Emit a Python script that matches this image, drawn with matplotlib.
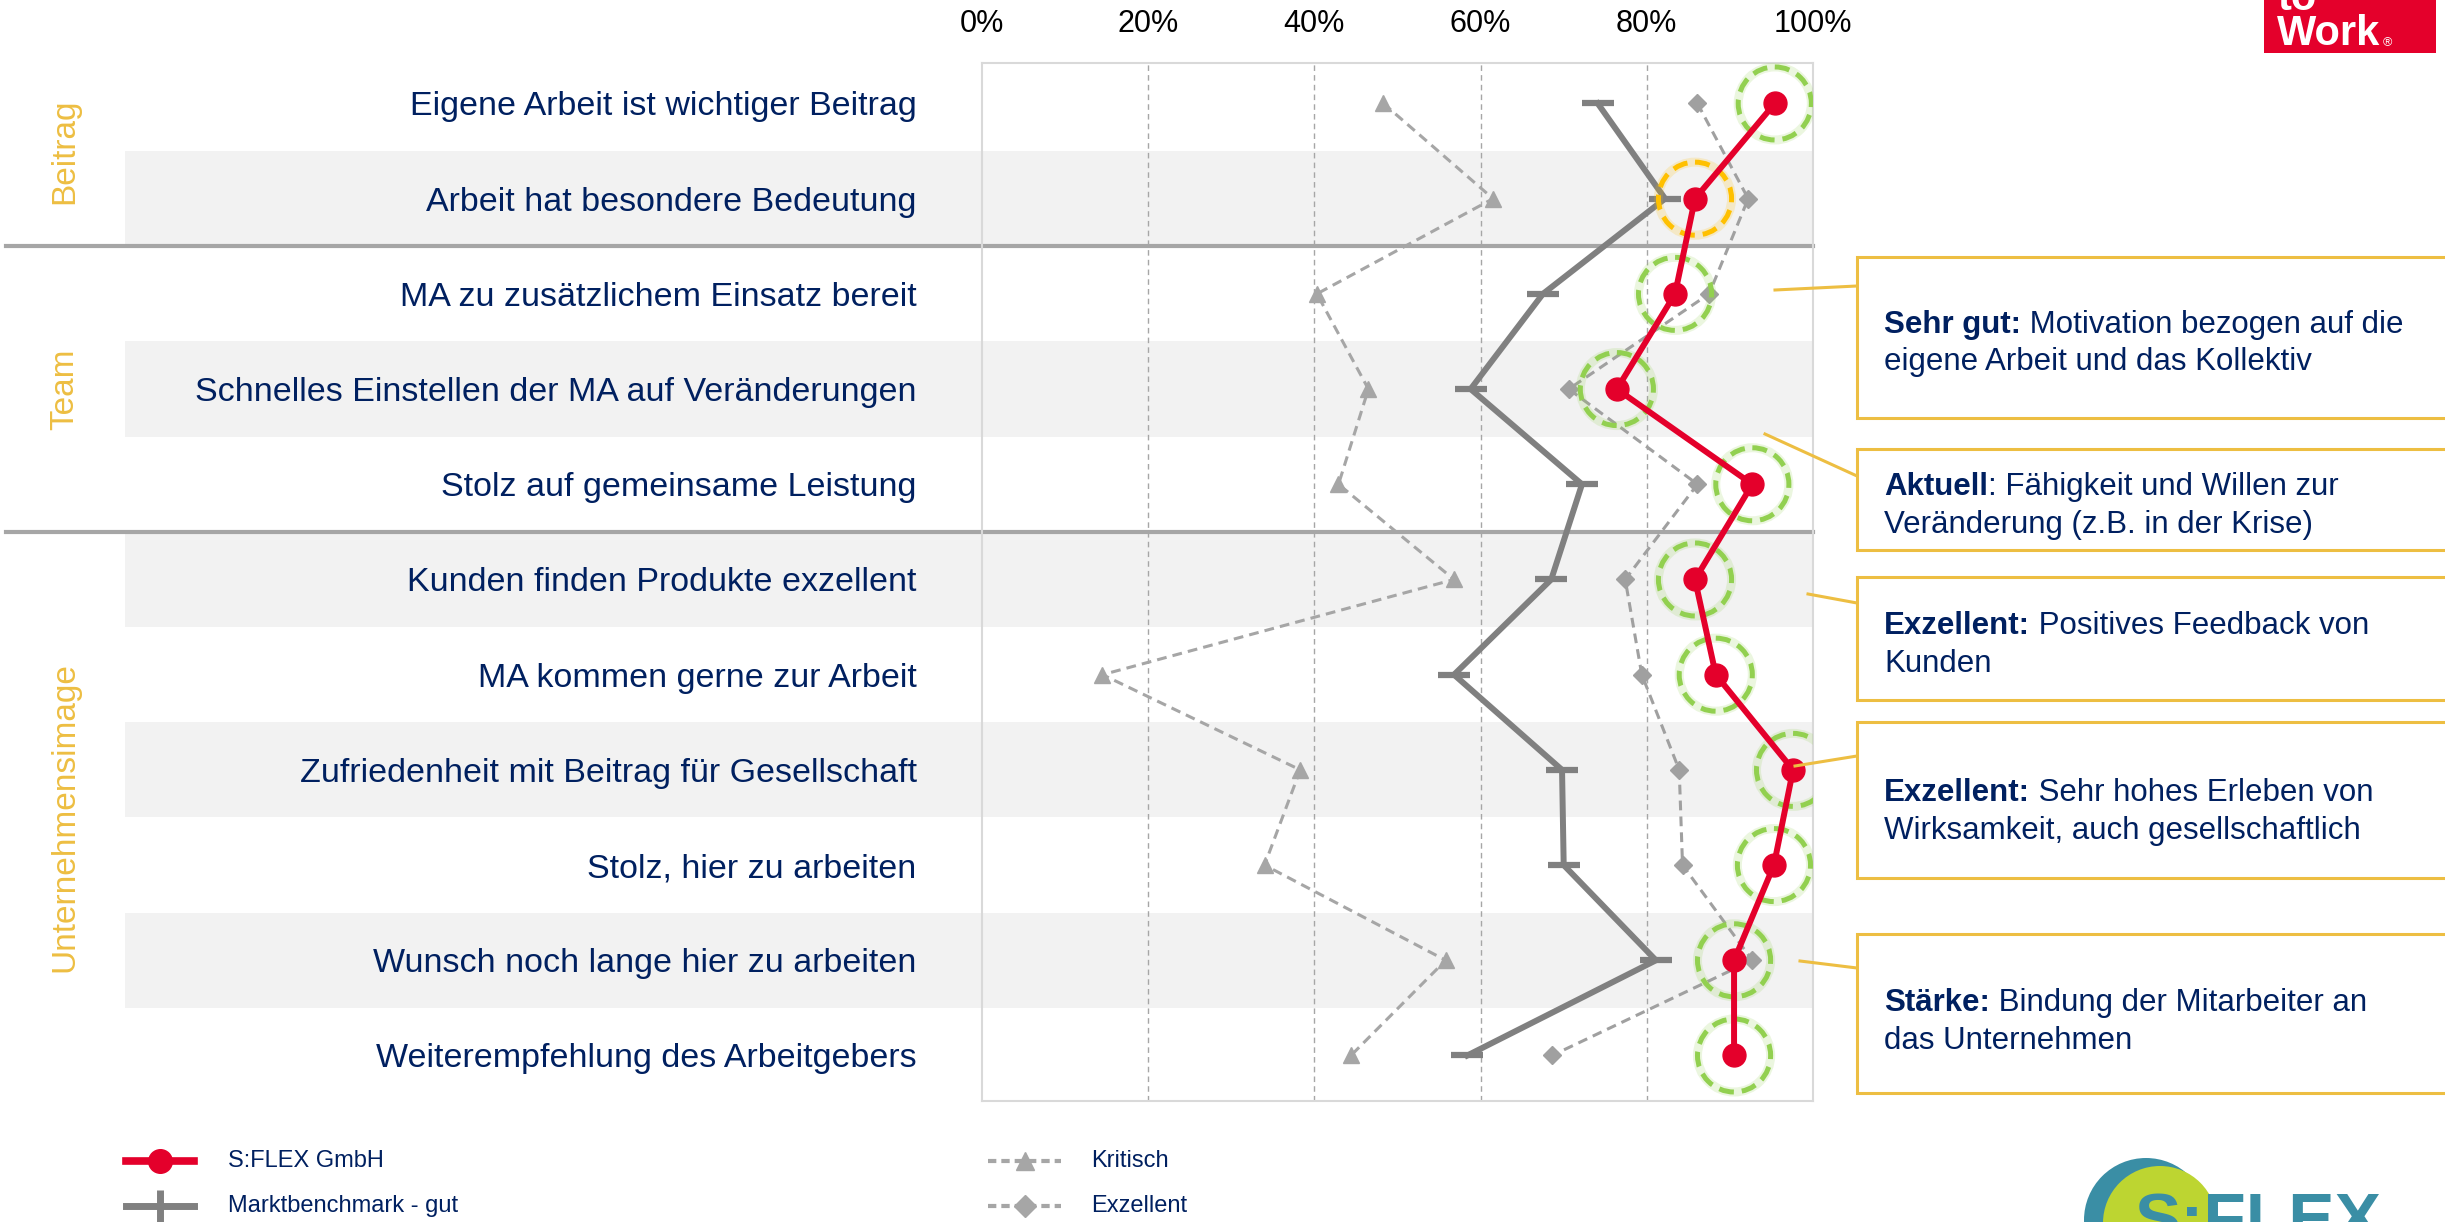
import matplotlib
matplotlib.use("Agg")
import matplotlib.pyplot as plt
import matplotlib.transforms as mtransforms
from matplotlib.patches import Ellipse, Rectangle
from matplotlib.lines import Line2D

plt.rcParams["font.family"] = ["Liberation Sans", "DejaVu Sans"]

# --- data -------------------------------------------------------------
categories = [
    "Eigene Arbeit ist wichtiger Beitrag",
    "Arbeit hat besondere Bedeutung",
    "MA zu zusätzlichem Einsatz bereit",
    "Schnelles Einstellen der MA auf Veränderungen",
    "Stolz auf gemeinsame Leistung",
    "Kunden finden Produkte exzellent",
    "MA kommen gerne zur Arbeit",
    "Zufriedenheit mit Beitrag für Gesellschaft",
    "Stolz, hier zu arbeiten",
    "Wunsch noch lange hier zu arbeiten",
    "Weiterempfehlung des Arbeitgebers",
]
sflex = [95.4, 85.8, 83.4, 76.4, 92.7, 85.8, 88.3, 97.6, 95.3, 90.5, 90.5]
benchmark = [74.1, 82.2, 67.5, 58.8, 72.2, 68.5, 56.8, 69.8, 70.0, 81.1, 58.4]
kritisch = [48.3, 61.5, 40.3, 46.5, 42.9, 56.8, 14.5, 38.3, 34.0, 55.8, 44.4]
exzellent = [86.1, 92.2, 87.5, 70.6, 86.1, 77.4, 79.4, 83.9, 84.3, 92.7, 68.6]
highlight = ["good", "warn", "good", "good", "good", "good", "good", "good", "good", "good", "good"]

groups = ["Beitrag", "Team", "Unternehmensimage"]
group_rows = [(0, 1), (2, 4), (5, 10)]

xticks = [0, 20, 40, 60, 80, 100]
xtick_labels = ["0%", "20%", "40%", "60%", "80%", "100%"]

legend_labels = ["S:FLEX GmbH", "Marktbenchmark - gut", "Kritisch", "Exzellent"]

notes_bold = ["Sehr gut:", "Aktuell", "Exzellent:", "Exzellent:", "Stärke:"]
notes_line1 = [" Motivation bezogen auf die", ": Fähigkeit und Willen zur",
               " Positives Feedback von", " Sehr hohes Erleben von",
               " Bindung der Mitarbeiter an"]
notes_line2 = ["eigene Arbeit und das Kollektiv", "Veränderung (z.B. in der Krise)",
               "Kunden", "Wirksamkeit, auch gesellschaftlich", "das Unternehmen"]

# --- layout (pixels) ---------------------------------------------------
W, H, DPI = 2445, 1222, 100
NAVY = "#002060"
RED = "#E4002B"
YELLOW = "#EDBE42"
GREEN = "#92D050"
ORANGE = "#FFC000"
TEAL = "#3A8EA5"

box_tb = [(257, 418), (449, 550), (577, 700), (722, 878), (934, 1093)]
note_base = [(333, 370), (495, 533), (634, 672), (801, 839), (1011, 1049)]
connectors = [((1775, 290), (1857, 286)), ((1765, 434), (1857, 476)),
              ((1808, 594), (1857, 603)), ((1795, 766), (1857, 756)),
              ((1800, 961), (1857, 968))]


def fx(px):
    return px / W


def fy(py):
    return 1 - py / H


fig = plt.figure(figsize=(W / DPI, H / DPI), dpi=DPI)
ax = fig.add_axes([fx(982), fy(1101), (1813 - 982) / W, (1101 - 63) / H])

rows = list(range(len(categories)))
ax.set_xlim(0, 100)
ax.set_ylim(10.478, -0.425)

blend = mtransforms.blended_transform_factory(ax.transAxes, ax.transData)
left_band = (125 - 982) / 831
left_sep = (6 - 982) / 831

# alternating bands
for i in rows:
    if i % 2 == 1:
        ax.add_patch(Rectangle((left_band, i - 0.5), 1 - left_band, 1.0,
                               transform=blend, facecolor="#F2F2F2",
                               edgecolor="none", zorder=0, clip_on=False))

# group separators
for a, b in group_rows[:-1]:
    ax.add_line(Line2D([left_sep, 1], [b + 0.5, b + 0.5], transform=blend,
                       color="#A6A6A6", lw=3, zorder=2, clip_on=False))

for v in xticks[1:-1]:
    ax.axvline(v, color="#A6A6A6", lw=1, ls=(0, (4, 3)), zorder=1)

# series
ax.plot(kritisch, rows, color="#A6A6A6", lw=2.2, ls=(0, (3.2, 2)),
        marker="^", ms=11, zorder=3)
ax.plot(exzellent, rows, color="#A0A0A0", lw=2.2, ls=(0, (3.2, 2)),
        marker="D", ms=9, zorder=3)
ax.plot(benchmark, rows, color="#808080", lw=4.3, marker="_", ms=23,
        mew=4.5, zorder=4)

for v, r, h in zip(sflex, rows, highlight):
    col = GREEN if h == "good" else ORANGE
    ax.add_patch(Ellipse((v, r), width=8.8, height=0.767, fill=False,
                         edgecolor=col, lw=6.5, alpha=0.18, zorder=5))
    ax.add_patch(Ellipse((v, r), width=8.8, height=0.767, fill=False,
                         edgecolor=col, lw=3.6, ls=(0, (3, 1.6)), zorder=5))

ax.plot(sflex, rows, color=RED, lw=4.3, marker="o", ms=16.5, zorder=6)

# axes styling
for s in ax.spines.values():
    s.set_color("#D9D9D9")
    s.set_linewidth(1.5)
ax.xaxis.tick_top()
ax.set_xticks(xticks)
ax.set_xticklabels(xtick_labels)
ax.tick_params(axis="x", length=0, pad=17, labelsize=22, labelcolor="black")
ax.set_yticks(rows)
ax.set_yticklabels(categories)
ax.tick_params(axis="y", length=0, pad=47, labelsize=24.5, labelcolor=NAVY)

# group labels
gblend = mtransforms.blended_transform_factory(fig.transFigure, ax.transData)
for name, (a, b) in zip(groups, group_rows):
    ax.text(fx(65), (a + b) / 2, name, transform=gblend, rotation=90,
            ha="center", va="center", fontsize=24, color=YELLOW, clip_on=False)

# legend
legend_pos = [(126, 194, 1161, 228), (126, 194, 1206, 228),
              (988, 1061, 1161, 1091), (988, 1061, 1206, 1091)]
legend_style = [
    dict(color=RED, lw=5.5, marker="o", ms=17),
    dict(color="#808080", lw=5, marker="|", ms=23, mew=5),
    dict(color="#A6A6A6", lw=3, ls=(0, (2, 1.2)), marker="^", ms=13),
    dict(color="#A6A6A6", lw=3, ls=(0, (2, 1.2)), marker="D", ms=11),
]
for label, (x0, x1, y, tx), st in zip(legend_labels, legend_pos, legend_style):
    fig.add_artist(Line2D([fx(x0), fx((x0 + x1) / 2), fx(x1)], [fy(y)] * 3,
                          transform=fig.transFigure, markevery=[1], **st))
    fig.text(fx(tx), fy(y), label, va="center", ha="left", fontsize=17,
             color=NAVY)

# note boxes
renderer = fig.canvas.get_renderer()
for (top, bot), (b1, b2), bold, l1, l2, ((sx, sy), (ex, ey)) in zip(
        box_tb, note_base, notes_bold, notes_line1, notes_line2, connectors):
    fig.add_artist(Rectangle((fx(1857), fy(bot)), fx(2470) - fx(1857),
                             (bot - top) / H, transform=fig.transFigure,
                             facecolor="white", edgecolor=YELLOW, lw=2.2))
    fig.add_artist(Line2D([fx(sx), fx(ex)], [fy(sy), fy(ey)],
                          transform=fig.transFigure, color=YELLOW, lw=2.2))
    t = fig.text(fx(1884), fy(b1), bold, fontweight="bold", va="baseline",
                 fontsize=22.5, color=NAVY)
    bb = t.get_window_extent(renderer=renderer)
    fig.text(bb.x1 / W, fy(b1), l1, va="baseline", fontsize=22.5, color=NAVY)
    fig.text(fx(1884), fy(b2), l2, va="baseline", fontsize=22.5, color=NAVY)

# logo top right (cut off)
fig.add_artist(Rectangle((fx(2264), fy(53)), fx(2436) - fx(2264), 53 / H,
                         transform=fig.transFigure, facecolor=RED,
                         edgecolor="none"))
fig.text(fx(2277), fy(10), "to", fontweight="bold", fontsize=30,
         color="white", va="baseline")
fig.text(fx(2277), fy(45), "Work", fontweight="bold", fontsize=30,
         color="white", va="baseline")
fig.text(fx(2383), fy(46), "®", fontsize=9, color="white", va="baseline")

# logo bottom right (cut off)
fig.add_artist(Ellipse((fx(2146), fy(1220)), 124 / W, 124 / H,
                       transform=fig.transFigure, facecolor=TEAL,
                       edgecolor="none"))
fig.add_artist(Ellipse((fx(2160), fy(1223)), 114 / W, 114 / H,
                       transform=fig.transFigure, facecolor="#BDD531",
                       edgecolor="none"))
fig.text(fx(2135), fy(1242), "S:FLEX", fontweight="bold", fontsize=50,
         color=TEAL, va="baseline")

fig.savefig("out.png", dpi=DPI)
plt.close(fig)
